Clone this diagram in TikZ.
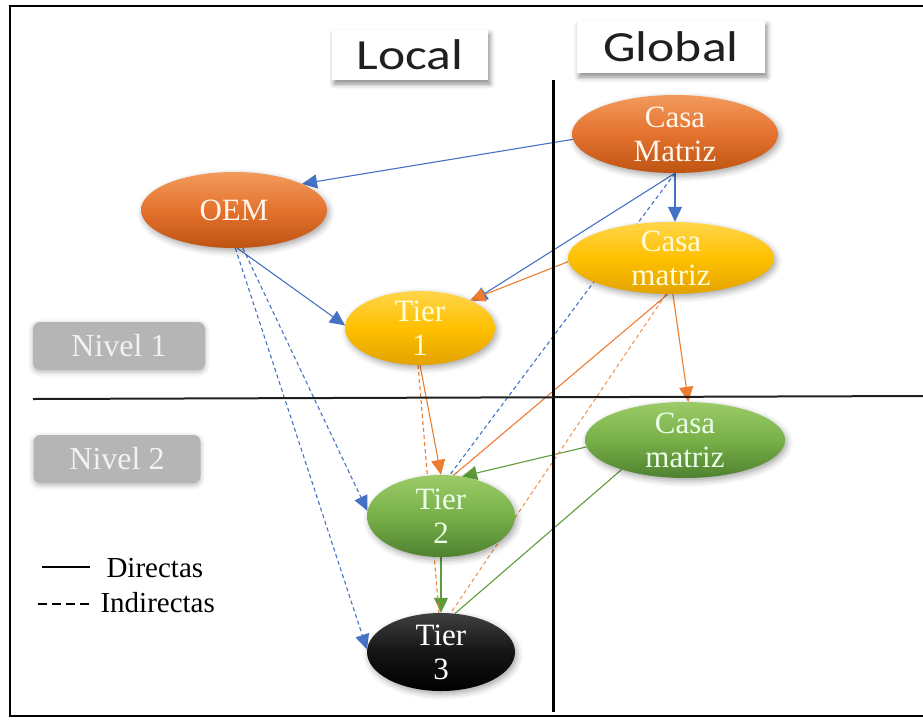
\documentclass[tikz,border=0pt]{standalone}
\usepackage{fontspec}
\setmainfont{Liberation Serif}
\newfontfamily\hdfont[FakeStretch=1.2]{Carlito}
\usetikzlibrary{shapes.geometric,arrows.meta,shadows.blur}
\definecolor{cblue}{HTML}{4472C4}
\definecolor{corange}{HTML}{ED7D31}
\definecolor{cgreen}{HTML}{5E9C3A}
\definecolor{ortop}{HTML}{F29A5C}
\definecolor{ormid}{HTML}{E4722E}
\definecolor{orbot}{HTML}{BE5412}
\definecolor{yetop}{HTML}{FFD54A}
\definecolor{yemid}{HTML}{FFC000}
\definecolor{yebot}{HTML}{E3A200}
\definecolor{grtop}{HTML}{9BCB68}
\definecolor{grmid}{HTML}{78B048}
\definecolor{grbot}{HTML}{4F8130}
\definecolor{nivgray}{HTML}{B5B5B5}
\pgfdeclarelayer{bg}
\pgfsetlayers{bg,main}
\newcommand{\twol}[2]{\raisebox{6.75pt}[0pt][0pt]{\begin{tabular}[t]{@{}c@{}}#1\\#2\end{tabular}}}
\newcommand{\onel}[1]{\raisebox{-10.3pt}[0pt][0pt]{#1}}
\tikzset{
  ell/.style={ellipse, inner sep=0pt, font=\fontsize{31}{34}\selectfont,
    blur shadow={shadow xshift=2pt, shadow yshift=-3pt, shadow blur radius=6pt, shadow opacity=35}},
  orangeell/.style={ell, top color=ortop, bottom color=orbot, middle color=ormid, text=orange!8},
  yellowell/.style={ell, top color=yetop, bottom color=yebot, middle color=yemid, text=yellow!15},
  greenell/.style={ell, top color=grtop, bottom color=grbot, middle color=grmid, text=green!8},
  blackell/.style={ell, top color=black!75, bottom color=black, middle color=black!92, text=white},
  nivelbox/.style={rectangle, rounded corners=7pt, fill=nivgray, text=white!95!black,
    minimum width=172pt, minimum height=48pt, font=\fontsize{32}{34}\selectfont,
    blur shadow={shadow xshift=0pt, shadow yshift=-2pt, shadow blur radius=5pt, shadow opacity=30}},
  headbox/.style={rectangle, fill=white, text=black!88, font=\hdfont\fontsize{43}{45}\selectfont,
    blur shadow={shadow xshift=2pt, shadow yshift=-4pt, shadow blur radius=5pt, shadow opacity=45}},
  cdir/.style={line width=1.1pt},
  cind/.style={line width=1.1pt, dash pattern=on 4pt off 3pt},
  tip/.style={-{Triangle[length=15pt,width=14pt]}},
  legtext/.style={anchor=west, text=black, font=\fontsize{29}{32}\selectfont},
}
\begin{document}
\begin{tikzpicture}[x=1pt,y=-1pt]
\useasboundingbox (0,0) rectangle (923,721);
% frame
\draw[line width=1.6pt] (940,6) -- (10,6) -- (10,716) -- (940,716);

% headers
\node[headbox, minimum width=156pt, minimum height=50pt] (loc) at (410,55) {Local};
\node[headbox, minimum width=188pt, minimum height=52pt] (glo) at (671,47) {Global};

% axes
\coordinate (vt) at (553,80);
\coordinate (vb) at (553,712);
\draw[line width=3pt] (vt) -- (vb);
\coordinate (hl) at (33,399);
\coordinate (hr) at (923,396);
\draw[line width=2pt, black!88] (hl) -- (hr);

% level boxes
\node[nivelbox] (n1) at (119,346) {Nivel 1};
\node[nivelbox, minimum width=167pt] (n2) at (117,459) {Nivel 2};

% nodes
\node[orangeell, minimum width=206pt, minimum height=78pt] (cm) at (675,134) {\twol{Casa}{Matriz}};
\node[yellowell, minimum width=206pt, minimum height=72pt] (cmy) at (671,258) {\twol{Casa}{matriz}};
\node[greenell, minimum width=200pt, minimum height=76pt] (cmg) at (685,440) {\twol{Casa}{matriz}};
\node[orangeell, minimum width=186pt, minimum height=76pt] (oem) at (234,210) {\onel{OEM}};
\node[yellowell, minimum width=150pt, minimum height=74pt] (t1) at (420,328) {\twol{Tier}{1}};
\node[greenell, minimum width=148pt, minimum height=82pt] (t2) at (441,516) {\twol{Tier}{2}};
\node[blackell, minimum width=148pt, minimum height=78pt] (t3) at (441,652) {\twol{Tier}{3}};

% connectors
\begin{pgfonlayer}{bg}
\draw[cdir, cblue, tip] (cm.183) -- (oem.21);
\draw[cdir, cblue, tip] (oem.-85) -- (t1.178);
\draw[cdir, cblue, tip] (cm.south) -- (cm.south |- cmy.north);
\draw[cdir, cblue, tip] (cm.south) -- (t1.27);
\draw[cdir, corange, tip] (cmy.182) -- (t1.29);
\draw[cdir, corange, tip] (cmy.-87) -- (cmg.85);
\draw[cdir, corange, tip] (t1.south) -- (t2.north);
\draw[cdir, corange] (cmy.-95) -- (t2.73);
\draw[cind, cblue] (cm.south) -- (t2.78);
\draw[cdir, cgreen, tip] (cmg.184) -- (t2.62);
\draw[cdir, cgreen, tip] (t2.south) -- (t3.north);
\draw[cdir, cgreen] (cmg.205) -- (t3.70);
\draw[cind, corange!80] (cmy.-98) -- (t3.76);
\draw[cind, corange] (t1.-93) -- (t3.93);
\draw[cind, cblue, tip] (oem.-77) -- (t2.176);
\draw[cind, cblue, tip] (oem.-88) -- (t3.178);
\end{pgfonlayer}

% legend
\coordinate (l1a) at (42,567);
\coordinate (l1b) at (90,567);
\draw[line width=1.3pt] (l1a) -- (l1b);
\node[legtext] (ldir) at (103,568) {Directas};
\coordinate (l2a) at (38,604);
\coordinate (l2b) at (90,604);
\draw[line width=1.1pt, dash pattern=on 9pt off 5pt] (l2a) -- (l2b);
\node[legtext] (lind) at (97,603) {Indirectas};
\end{tikzpicture}
\end{document}
